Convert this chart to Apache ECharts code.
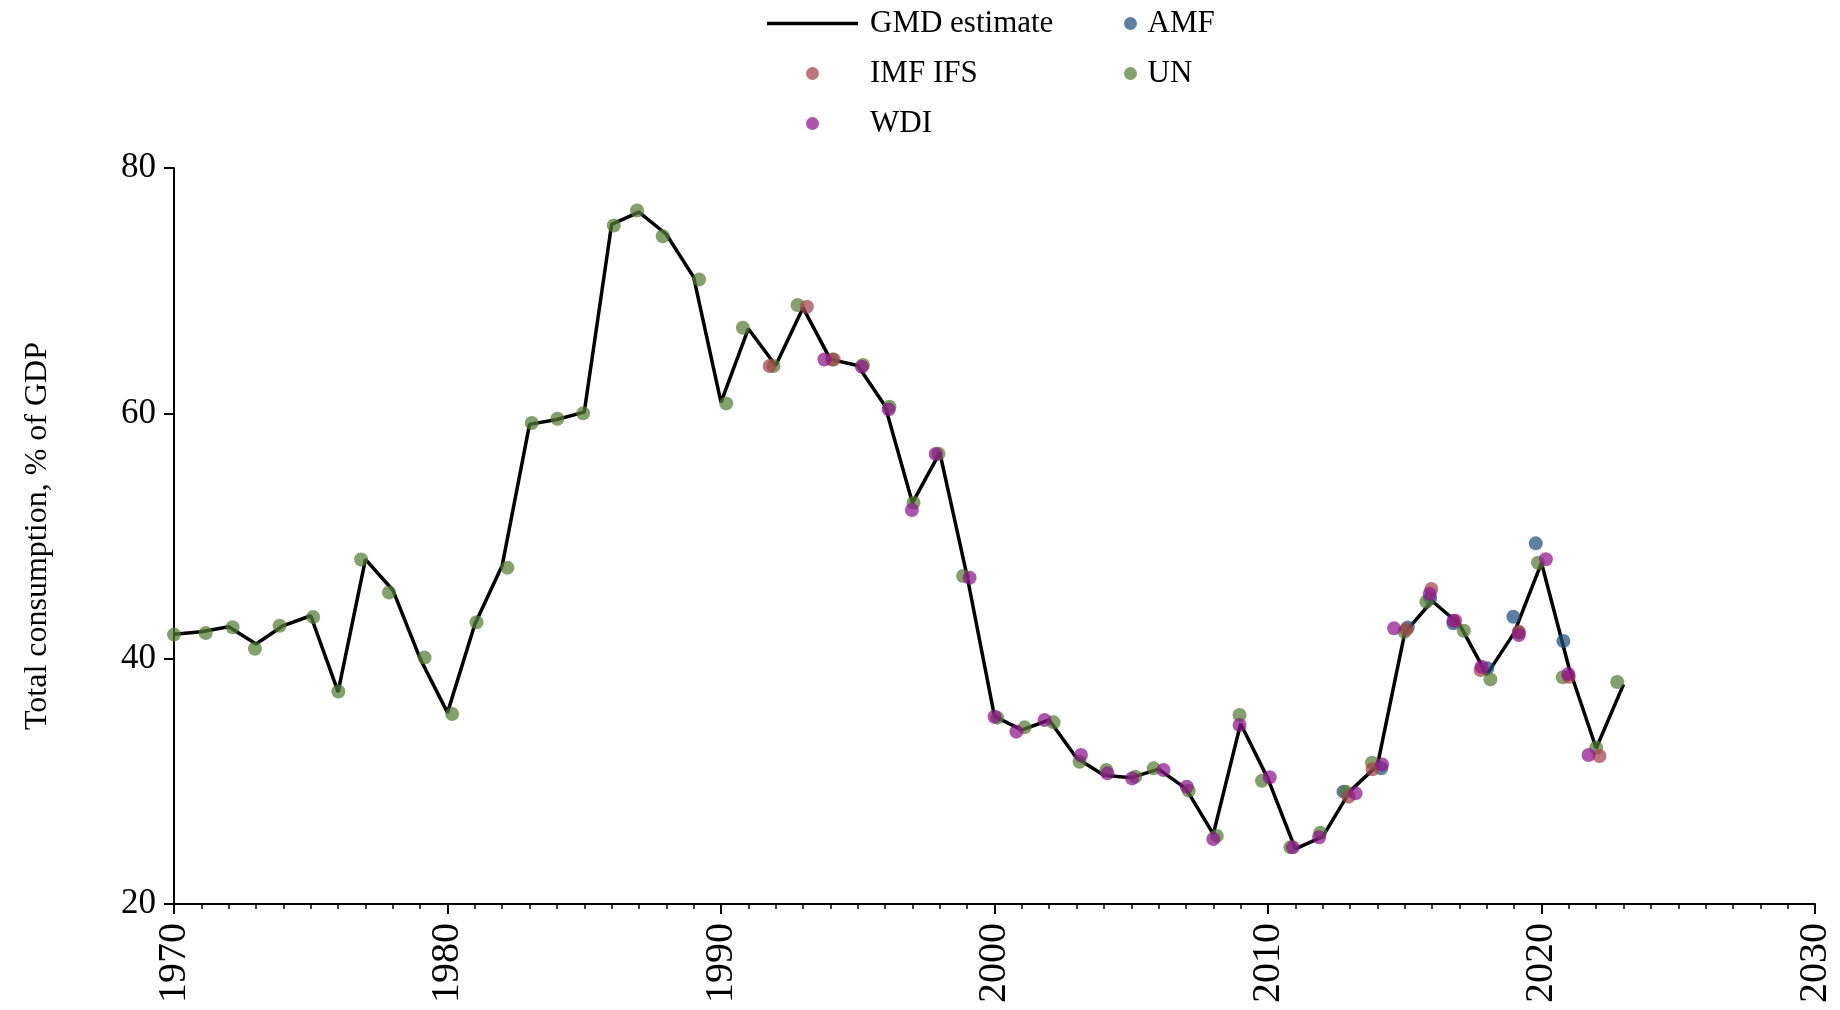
<!DOCTYPE html>
<html>
<head>
<meta charset="utf-8">
<title>Total consumption, % of GDP</title>
<script src="https://cdn.jsdelivr.net/npm/echarts@6/dist/echarts.min.js"></script>
<style>
  html, body { margin: 0; padding: 0; background: #fff; }
  #chart { width: 1840px; height: 1010px; }
</style>
</head>
<body>
<div id="chart"></div>
<script>
// GMD estimate, one value per year
const years = [
  1970, 1971, 1972, 1973, 1974, 1975, 1976, 1977, 1978, 1979,
  1980, 1981, 1982, 1983, 1984, 1985, 1986, 1987, 1988, 1989,
  1990, 1991, 1992, 1993, 1994, 1995, 1996, 1997, 1998, 1999,
  2000, 2001, 2002, 2003, 2004, 2005, 2006, 2007, 2008, 2009,
  2010, 2011, 2012, 2013, 2014, 2015, 2016, 2017, 2018, 2019,
  2020, 2021, 2022, 2023
];
const gmdValues = [
  42.0, 42.2, 42.6, 41.2, 42.7, 43.5, 37.3, 48.1, 45.6, 40.0,
  35.6, 42.8, 47.6, 59.1, 59.5, 60.1, 75.4, 76.4, 74.6, 71.1,
  60.9, 66.9, 63.9, 68.6, 64.4, 63.9, 60.6, 52.7, 56.8, 46.7,
  35.3, 34.2, 35.0, 31.9, 30.5, 30.3, 31.0, 29.4, 25.7, 34.7,
  30.2, 24.5, 25.5, 29.2, 31.3, 42.1, 44.7, 42.8, 38.7, 42.1,
  47.8, 39.3, 32.7, 37.9
];

// source points: [year as drawn (slightly spread), value]
const unPoints = [
  [1970.0, 41.96], [1971.16, 42.09], [1972.14, 42.56], [1972.96, 40.81], [1973.86, 42.68],
  [1975.09, 43.40], [1976.01, 37.32], [1976.84, 48.09], [1977.86, 45.39], [1979.16, 40.09],
  [1980.17, 35.49], [1981.06, 42.97], [1982.19, 47.42], [1983.08, 59.21], [1984.02, 59.56],
  [1984.96, 60.0], [1986.08, 75.31], [1986.93, 76.53], [1987.87, 74.44], [1989.2, 70.92],
  [1990.19, 60.81], [1990.8, 66.98], [1991.92, 63.86], [1992.8, 68.83], [1994.06, 64.39],
  [1995.19, 63.94], [1996.16, 60.54], [1997.04, 52.71], [1997.95, 56.7], [1998.85, 46.74],
  [2000.1, 35.19], [2001.1, 34.4], [2002.16, 34.81], [2003.11, 31.6], [2004.09, 30.92],
  [2005.15, 30.38], [2005.82, 31.06], [2007.1, 29.24], [2008.13, 25.55], [2008.96, 35.41],
  [2009.78, 30.05], [2010.82, 24.62], [2011.91, 25.81], [2012.84, 29.16], [2013.8, 31.52],
  [2014.99, 42.2], [2015.79, 44.64], [2017.16, 42.28], [2018.13, 38.31], [2019.17, 42.12],
  [2019.87, 47.82], [2020.78, 38.48], [2022.0, 32.74], [2022.77, 38.1]
];
const amfPoints = [
  [2012.76, 29.16], [2014.14, 31.06], [2015.11, 42.55], [2015.93, 44.91], [2016.78, 42.88],
  [2018.02, 39.21], [2018.97, 43.42], [2019.79, 49.4], [2020.8, 41.44]
];
const imfPoints = [
  [1991.78, 63.86], [1993.14, 68.69], [1994.12, 64.39], [2012.95, 28.75], [2013.82, 30.98],
  [2015.06, 42.39], [2015.97, 45.68], [2016.85, 43.1], [2017.77, 39.08], [2019.17, 42.2],
  [2021.0, 38.53], [2022.12, 32.07]
];
const wdiPoints = [
  [1993.78, 64.39], [1995.15, 63.8], [1996.13, 60.32], [1996.98, 52.12], [1997.85, 56.68],
  [1999.09, 46.6], [2000.0, 35.27], [2000.8, 34.05], [2001.83, 35.0], [2003.16, 32.15],
  [2004.13, 30.65], [2005.03, 30.24], [2006.18, 30.92], [2007.03, 29.56], [2008.0, 25.3],
  [2008.96, 34.59], [2010.06, 30.33], [2010.91, 24.62], [2011.87, 25.44], [2013.2, 29.02],
  [2014.17, 31.38], [2014.61, 42.47], [2015.91, 45.27], [2016.78, 43.1], [2017.81, 39.34],
  [2019.17, 41.93], [2020.16, 48.1], [2020.98, 38.75], [2021.72, 32.15]
];

const FONT = "'Liberation Serif', 'Times New Roman', serif";
const colors = {
  amf: '#1f4f7c',
  imf: '#a3424a',
  un: '#547c33',
  wdi: '#8e138e'
};

function pointSeries(name, data, color) {
  return {
    name: name,
    type: 'scatter',
    data: data,
    symbol: 'circle',
    symbolSize: 14,
    itemStyle: { color: color, opacity: 0.72 },
    emphasis: { disabled: true },
    z: 3
  };
}

const chart = echarts.init(document.getElementById('chart'), null, { renderer: 'canvas' });

const legendText = { fontFamily: FONT, fontSize: 31, lineHeight: 30, color: '#000' };

chart.setOption({
  animation: false,
  backgroundColor: '#fff',
  textStyle: { fontFamily: FONT, color: '#000' },
  legend: [
    {
      data: [
        { name: 'GMD estimate', icon: 'path://M0,0H91V3.5H0Z' },
        { name: 'IMF IFS', icon: 'circle' },
        { name: 'WDI', icon: 'circle' }
      ],
      orient: 'vertical',
      left: 762,
      top: 3,
      itemWidth: 91,
      itemHeight: 13,
      itemGap: 19,
      selectedMode: false,
      textStyle: Object.assign({}, legendText, { padding: [0, 0, 0, 7] })
    },
    {
      data: [
        { name: 'AMF', icon: 'circle' },
        { name: 'UN', icon: 'circle' }
      ],
      orient: 'vertical',
      left: 1119,
      top: 3,
      itemWidth: 24,
      itemHeight: 13,
      itemGap: 19,
      selectedMode: false,
      textStyle: legendText
    }
  ],
  grid: { left: 174, right: 25, top: 168, bottom: 106, containLabel: false },
  xAxis: {
    type: 'value',
    min: 1970,
    max: 2030,
    interval: 10,
    axisLine: { show: true, lineStyle: { color: '#000', width: 2 } },
    axisTick: { show: true, length: 10, lineStyle: { color: '#000', width: 2 } },
    minorTick: { show: true, splitNumber: 10, length: 5, lineStyle: { color: '#000', width: 1.5 } },
    splitLine: { show: false },
    axisLabel: {
      rotate: 90, margin: 19, fontSize: 40, fontFamily: FONT, color: '#000',
      formatter: v => String(v)
    }
  },
  yAxis: {
    type: 'value',
    min: 20,
    max: 80,
    interval: 20,
    name: 'Total consumption, % of GDP',
    nameLocation: 'middle',
    nameGap: 120,
    nameTextStyle: { fontSize: 32, fontFamily: FONT, color: '#000' },
    axisLine: { show: true, lineStyle: { color: '#000', width: 2 } },
    axisTick: { show: true, length: 10, lineStyle: { color: '#000', width: 2 } },
    splitLine: { show: false },
    axisLabel: { margin: 18, fontSize: 35, fontFamily: FONT, color: '#000' }
  },
  series: [
    {
      name: 'GMD estimate',
      type: 'line',
      data: years.map((y, i) => [y, gmdValues[i]]),
      symbol: 'none',
      lineStyle: { color: '#000', width: 3.5 },
      itemStyle: { color: '#000' },
      emphasis: { disabled: true },
      z: 2
    },
    pointSeries('AMF', amfPoints, colors.amf),
    pointSeries('UN', unPoints, colors.un),
    pointSeries('IMF IFS', imfPoints, colors.imf),
    pointSeries('WDI', wdiPoints, colors.wdi)
  ]
});
</script>
</body>
</html>
